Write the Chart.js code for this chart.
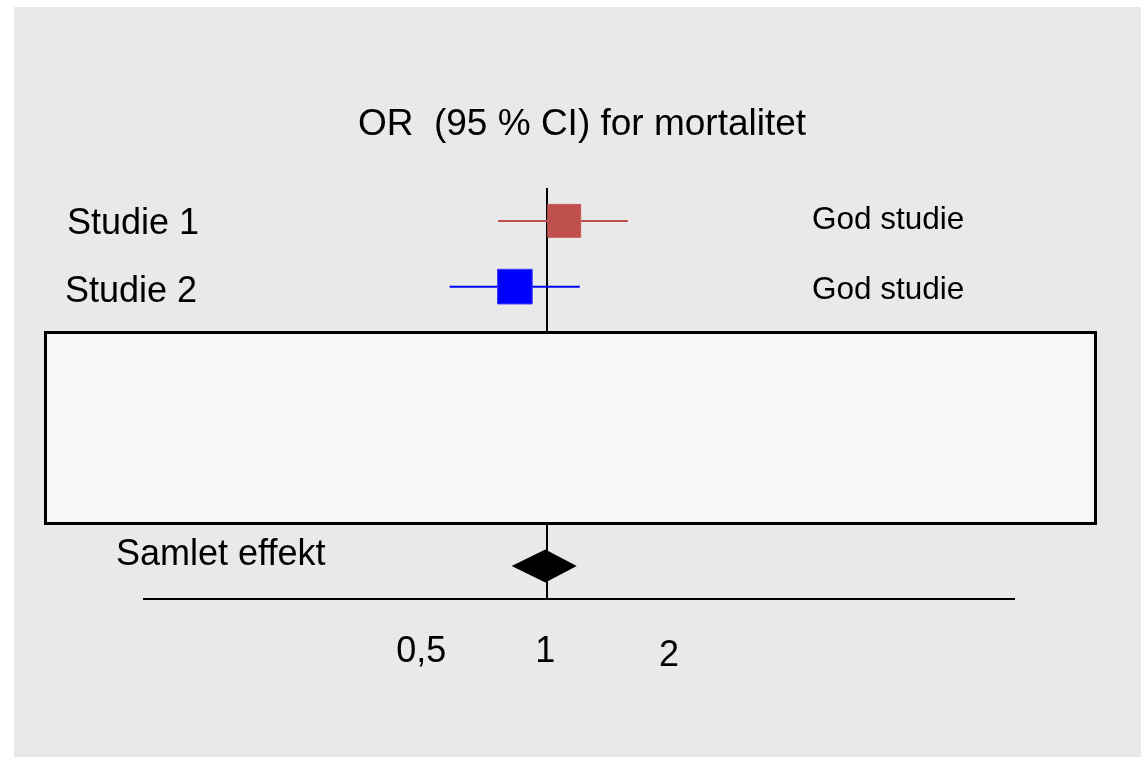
<!DOCTYPE html>
<html>
<head>
<meta charset="utf-8">
<script src="https://cdn.jsdelivr.net/npm/chart.js@4.4.1/dist/chart.umd.min.js"></script>
<style>
  html, body { margin: 0; padding: 0; background: #ffffff; }
  #wrap { width: 1141px; height: 758px; position: relative; }
</style>
</head>
<body>
<div id="wrap"><canvas id="c" width="1141" height="758"></canvas></div>
<script>
// ---- data ----
const titleText = 'OR  (95 % CI) for mortalitet';
const categories = ['Studie 1', 'Studie 2', 'Samlet effekt'];
const rowPos = [1, 2, 6.25];
const orEst = [1.10, 0.835, 0.99];
const ciLow = [0.76, 0.58, 0.82];
const ciHigh = [1.57, 1.20, 1.18];
const quality = ['God studie', 'God studie', ''];
const tickValues = [0.5, 1, 2];
const tickLabels = ['0,5', '1', '2'];

const FONT = '"Liberation Sans", Arial, Helvetica, sans-serif';
const colors = ['#c0504d', '#0000ff'];
const borderColors = ['#c45a57', '#3a3aff'];
const squareRadius = [23.3, 24.5];

const datasets = [];
for (let i = 0; i < 2; i++) {
  datasets.push({
    type: 'line',
    data: [{ x: ciLow[i], y: rowPos[i] }, { x: ciHigh[i], y: rowPos[i] }],
    borderColor: colors[i],
    borderWidth: 2,
    pointRadius: 0,
    fill: false,
    order: 2
  });
  datasets.push({
    type: 'scatter',
    data: [{ x: orEst[i], y: rowPos[i] }],
    pointStyle: 'rect',
    pointRadius: squareRadius[i],
    backgroundColor: colors[i],
    borderColor: borderColors[i],
    borderWidth: 1,
    order: 1
  });
}

const decorPlugin = {
  id: 'decor',
  beforeDraw(chart) {
    const ctx = chart.ctx;
    ctx.save();
    ctx.fillStyle = '#ffffff';
    ctx.fillRect(0, 0, chart.width, chart.height);
    ctx.fillStyle = '#e9e9e9';
    ctx.fillRect(14, 7, chart.width - 14, chart.height - 8);
    ctx.restore();
  },
  beforeDatasetsDraw(chart) {
    const ctx = chart.ctx;
    ctx.save();
    ctx.fillStyle = '#f8f8f8';
    ctx.fillRect(45.5, 332.5, 1050, 191);
    ctx.strokeStyle = '#000000';
    ctx.lineWidth = 3;
    ctx.strokeRect(45.5, 332.5, 1050, 191);
    ctx.restore();
  },
  afterDatasetsDraw(chart) {
    const ctx = chart.ctx;
    const xs = chart.scales.x, ys = chart.scales.y;
    // pooled diamond
    const i = 2;
    const pl = xs.getPixelForValue(ciLow[i]);
    const pe = xs.getPixelForValue(orEst[i]);
    const ph = xs.getPixelForValue(ciHigh[i]);
    const py = ys.getPixelForValue(rowPos[i]);
    const hh = 16.5;
    ctx.save();
    ctx.fillStyle = '#000000';
    ctx.beginPath();
    ctx.moveTo(pl, py);
    ctx.lineTo(pe, py - hh);
    ctx.lineTo(ph, py);
    ctx.lineTo(pe, py + hh);
    ctx.closePath();
    ctx.fill();
    ctx.restore();
  },
  afterDraw(chart) {
    const ctx = chart.ctx;
    const xs = chart.scales.x, ys = chart.scales.y;
    ctx.save();
    ctx.fillStyle = '#000000';
    ctx.textBaseline = 'alphabetic';
    // title
    ctx.font = '37px ' + FONT;
    ctx.textAlign = 'center';
    ctx.fillText(titleText, 582, 135);
    // row labels
    const labelX = [67, 65, 116];
    const labelDy = [13, 15, -1];
    ctx.font = '36px ' + FONT;
    ctx.textAlign = 'left';
    categories.forEach((c, k) => {
      ctx.fillText(c, labelX[k], ys.getPixelForValue(rowPos[k]) + labelDy[k]);
    });
    // quality labels
    const qDy = [8, 12, 0];
    ctx.font = '31.5px ' + FONT;
    quality.forEach((q, k) => {
      if (q) ctx.fillText(q, 812, ys.getPixelForValue(rowPos[k]) + qDy[k]);
    });
    // tick labels
    ctx.font = '36px ' + FONT;
    ctx.textAlign = 'center';
    const tDy = [0, 0, 4];
    tickValues.forEach((v, k) => {
      ctx.fillText(tickLabels[k], xs.getPixelForValue(v) - 2, 662 + tDy[k]);
    });
    ctx.restore();
  }
};

new Chart(document.getElementById('c'), {
  type: 'scatter',
  data: { datasets },
  options: {
    responsive: false,
    animation: false,
    events: [],
    layout: { padding: { left: 144, right: 127, top: 188, bottom: 159 } },
    plugins: { legend: { display: false }, tooltip: { enabled: false }, title: { display: false } },
    scales: {
      x: {
        type: 'logarithmic',
        min: 0.105,
        max: 13.6,
        afterBuildTicks: (scale) => { scale.ticks = tickValues.map(v => ({ value: v })); },
        ticks: { display: false },
        grid: {
          drawTicks: false,
          lineWidth: 2,
          color: (c) => (c.tick && c.tick.value === 1 ? '#000000' : 'rgba(0,0,0,0)')
        },
        border: { display: true, color: '#000000', width: 2 }
      },
      y: {
        type: 'linear',
        reverse: true,
        min: 0.5,
        max: 6.75,
        display: false
      }
    }
  },
  plugins: [decorPlugin]
});
</script>
</body>
</html>
